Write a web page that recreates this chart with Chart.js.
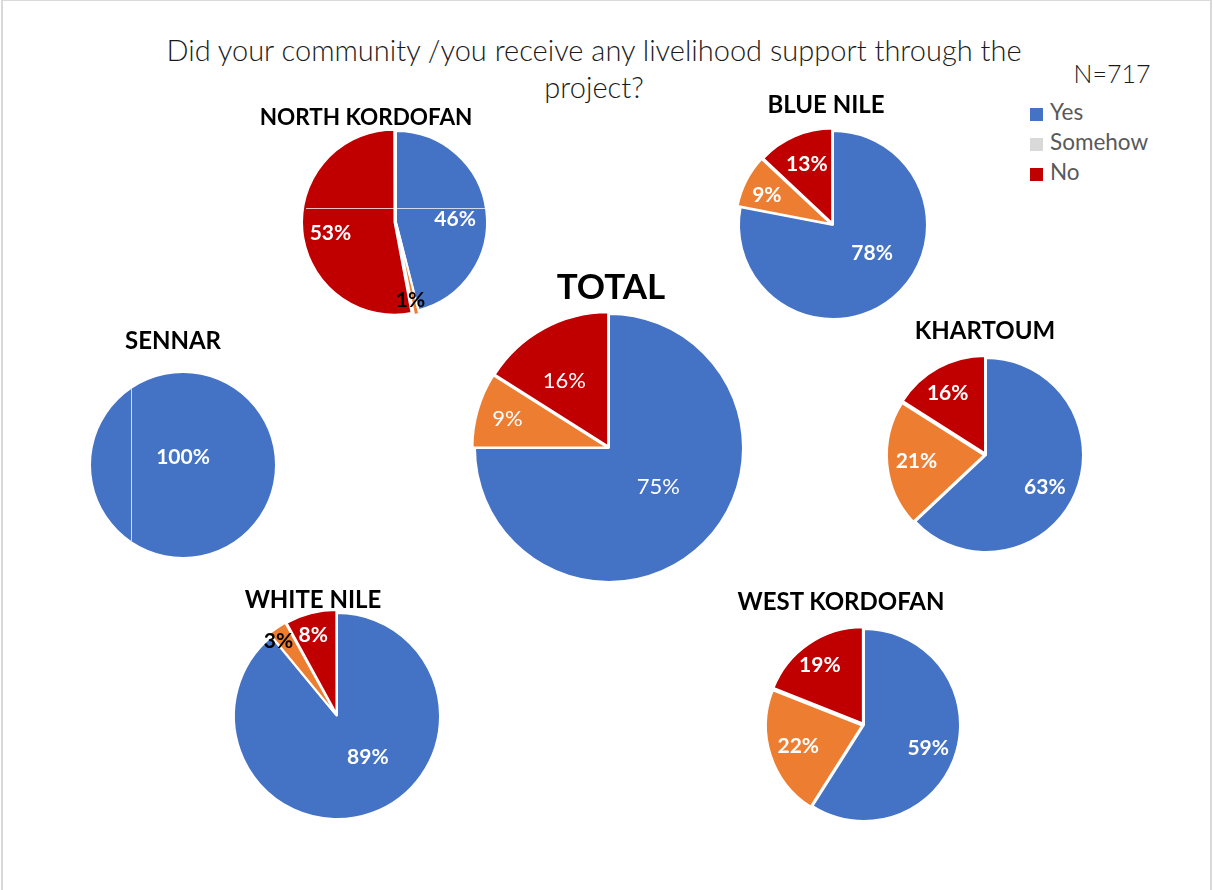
<!DOCTYPE html>
<html>
<head>
<meta charset="utf-8">
<title>Livelihood support by state</title>
<script src="https://cdn.jsdelivr.net/npm/chart.js@4.4.1/dist/chart.umd.min.js"></script>
<style>
  html, body { margin: 0; padding: 0; background: #fff; }
  body { width: 1213px; height: 890px; overflow: hidden; position: relative; font-family: Lato, "Open Sans", sans-serif; }
  #frame { position: absolute; left: 1px; top: 0; width: 1211px; height: 900px; box-sizing: border-box;
           border-top: 1px solid #d9d9d9; border-left: 2px solid #d9d9d9; border-right: 2px solid #d9d9d9; }
  .txt { position: absolute; transform: translate(-50%, -50%); white-space: nowrap; line-height: 1; }
  #mainTitle { font-weight: 300; color: #1a1a1a; text-align: center; line-height: 37px; transform: translate(-50%, 0); }
  .region { font-weight: 700; color: #000; }
  .pie { position: absolute; }
  #legend { position: absolute; left: 1030px; top: 101px; color: #595959; font-size: 22.5px; }
  #legend .item { position: absolute; left: 0; white-space: nowrap; line-height: 1; }
  #legend .sw { display: inline-block; width: 13px; height: 13px; margin-right: 7px; vertical-align: -1px; }
</style>
</head>
<body>
<div id="frame"></div>
<div id="mainTitle" class="txt"></div>
<div id="nLabel" class="txt"></div>
<div id="legend"></div>

<script>
// Survey question and sample size
const question = 'Did your community /you receive any livelihood support through the project?';
const sampleSize = 717;

// Answer categories and per-state shares (%)
const answers = ['Yes', 'Somehow', 'No'];
const regions = ['TOTAL', 'NORTH KORDOFAN', 'BLUE NILE', 'SENNAR', 'KHARTOUM', 'WHITE NILE', 'WEST KORDOFAN'];
const yesShare     = [75, 46, 78, 100, 63, 89, 59];
const somehowShare = [ 9,  1,  9,   0, 21,  3, 22];
const noShare      = [16, 53, 13,   0, 16,  8, 19];

// Colours
const sliceColors  = ['#4472C4', '#ED7D31', '#C00000'];
const legendColors = ['#4472C4', '#D9D9D9', '#C00000'];

// Placement of each pie and of its labels (label radius as a share of the pie radius,
// turn = small rotation off the slice bisector, in degrees)
const layout = {
  'TOTAL':          { cx: 609, cy: 448, r: 134, explode: [0, 7, 7], labelAt: [0.47, 0.79, 0.60], turn: [-6.5, 0, -5], labelWeight: 'normal', labelSize: 22, labelColors: ['#fff', '#fff', '#fff'], title: { x: 611, y: 285, size: 35 } },
  'NORTH KORDOFAN': { cx: 396, cy: 222, r: 91,  explode: [0, 8, 6], labelAt: [0.65, 0.87, 0.73], turn: [5, 2, -4],      labelWeight: 'bold', labelSize: 21, labelColors: ['#fff', '#000', '#fff'], title: { x: 366, y: 117, size: 22.5 }, chord: { axis: 'y', at: -0.155 } },
  'BLUE NILE':      { cx: 833, cy: 225, r: 94,  explode: [0, 9, 8], labelAt: [0.51, 0.77, 0.70], turn: [-15, -3, 0],    labelWeight: 'bold', labelSize: 21, labelColors: ['#fff', '#fff', '#fff'], title: { x: 826, y: 104, size: 24 } },
  'SENNAR':         { cx: 183, cy: 465, r: 92,  explode: [0, 0, 0], labelAt: [-0.08, 0, 0],      turn: [0, 0, 0],        labelWeight: 'bold', labelSize: 21, labelColors: ['#fff', '#fff', '#fff'], title: { x: 173, y: 340, size: 24 }, chord: { axis: 'x', at: -0.565 } },
  'KHARTOUM':       { cx: 986, cy: 455, r: 97,  explode: [0, 8, 8], labelAt: [0.69, 0.72, 0.75], turn: [5, 0, -3],       labelWeight: 'bold', labelSize: 21, labelColors: ['#fff', '#fff', '#fff'], title: { x: 985, y: 330, size: 24 } },
  'WHITE NILE':     { cx: 337, cy: 716, r: 103, explode: [0, 8, 8], labelAt: [0.50, 0.92, 0.82], turn: [-17, -4, -2],    labelWeight: 'bold', labelSize: 21, labelColors: ['#fff', '#000', '#fff'], title: { x: 313, y: 599, size: 24 } },
  'WEST KORDOFAN':  { cx: 864, cy: 725, r: 96,  explode: [0, 8, 8], labelAt: [0.71, 0.72, 0.77], turn: [3.5, 0, -2.5],   labelWeight: 'bold', labelSize: 21, labelColors: ['#fff', '#fff', '#fff'], title: { x: 841, y: 601, size: 24 } }
};

// Percentage labels placed near each slice's bisector
const sliceLabels = {
  id: 'sliceLabels',
  afterDatasetsDraw(chart, args, opts) {
    const ctx = chart.ctx;
    const meta = chart.getDatasetMeta(0);
    const values = chart.data.datasets[0].data;
    meta.data.forEach((arc, i) => {
      const v = values[i];
      if (!v) return;
      const p = arc.getProps(['x', 'y', 'startAngle', 'endAngle', 'outerRadius'], true);
      const mid = (p.startAngle + p.endAngle) / 2 + opts.turn[i] * Math.PI / 180;
      const rr = p.outerRadius * opts.at[i];
      ctx.save();
      ctx.font = opts.weight + ' ' + opts.size + 'px Lato, "Open Sans", sans-serif';
      ctx.fillStyle = opts.colors[i];
      ctx.textAlign = 'center';
      ctx.textBaseline = 'middle';
      ctx.fillText(v + '%', p.x + Math.cos(mid) * rr, p.y + Math.sin(mid) * rr);
      ctx.restore();
    });
  }
};

// Thin light seam crossing some pies
const seam = {
  id: 'seam',
  afterDatasetsDraw(chart, args, opts) {
    if (!opts || !opts.axis) return;
    const arc = chart.getDatasetMeta(0).data[0];
    if (!arc) return;
    const { x, y, outerRadius: R } = arc.getProps(['x', 'y', 'outerRadius'], true);
    const d = opts.at * R;
    const half = Math.sqrt(Math.max(R * R - d * d, 0));
    const ctx = chart.ctx;
    ctx.save();
    ctx.strokeStyle = 'rgba(255,255,255,0.75)';
    ctx.lineWidth = 1;
    ctx.beginPath();
    if (opts.axis === 'x') {
      ctx.moveTo(Math.round(x + d) + 0.5, y - half);
      ctx.lineTo(Math.round(x + d) + 0.5, y + half);
    } else {
      ctx.moveTo(x - half, Math.round(y + d) + 0.5);
      ctx.lineTo(x + half, Math.round(y + d) + 0.5);
    }
    ctx.stroke();
    ctx.restore();
  }
};

// Header text
const titleEl = document.getElementById('mainTitle');
const words = question.split(' ');
titleEl.innerHTML = words.slice(0, -1).join(' ') + '<br>' + words[words.length - 1];
Object.assign(titleEl.style, { left: '594px', top: '31px', fontSize: '29px' });

const nEl = document.getElementById('nLabel');
nEl.textContent = 'N=' + sampleSize;
Object.assign(nEl.style, { left: '1112px', top: '73px', fontSize: '25px', fontWeight: '300', color: '#1a1a1a' });

// Legend
const legendEl = document.getElementById('legend');
answers.forEach((a, i) => {
  const item = document.createElement('div');
  item.className = 'item';
  item.style.top = (i * 30) + 'px';
  item.innerHTML = '<span class="sw" style="background:' + legendColors[i] + '"></span>' + a;
  legendEl.appendChild(item);
});

// One pie per region
regions.forEach((name, k) => {
  const L = layout[name];
  const size = 2 * L.r + 40;

  const box = document.createElement('div');
  box.className = 'pie';
  box.style.left = (L.cx - size / 2) + 'px';
  box.style.top = (L.cy - size / 2) + 'px';
  box.style.width = size + 'px';
  box.style.height = size + 'px';
  const canvas = document.createElement('canvas');
  canvas.width = size;
  canvas.height = size;
  box.appendChild(canvas);
  document.body.appendChild(box);

  const t = document.createElement('div');
  t.className = 'txt region';
  t.textContent = name;
  Object.assign(t.style, { left: L.title.x + 'px', top: L.title.y + 'px', fontSize: L.title.size + 'px' });
  document.body.appendChild(t);

  new Chart(canvas, {
    type: 'pie',
    data: {
      labels: answers,
      datasets: [{
        data: [yesShare[k], somehowShare[k], noShare[k]],
        backgroundColor: sliceColors,
        borderColor: '#ffffff',
        // no outline on empty slices or on a slice that fills the whole pie
        borderWidth: ctx => (ctx.raw && ctx.raw < 100 ? 2 : 0),
        hoverBorderWidth: 0,
        offset: L.explode,
        hoverOffset: 0,
        radius: L.r
      }]
    },
    options: {
      responsive: false,
      maintainAspectRatio: false,
      animation: false,
      events: [],
      layout: { padding: 0 },
      plugins: {
        legend: { display: false },
        tooltip: { enabled: false },
        title: { display: false },
        sliceLabels: { at: L.labelAt, turn: L.turn, weight: L.labelWeight, size: L.labelSize, colors: L.labelColors },
        seam: L.chord || {}
      }
    },
    plugins: [sliceLabels, seam]
  });
});
</script>
</body>
</html>
